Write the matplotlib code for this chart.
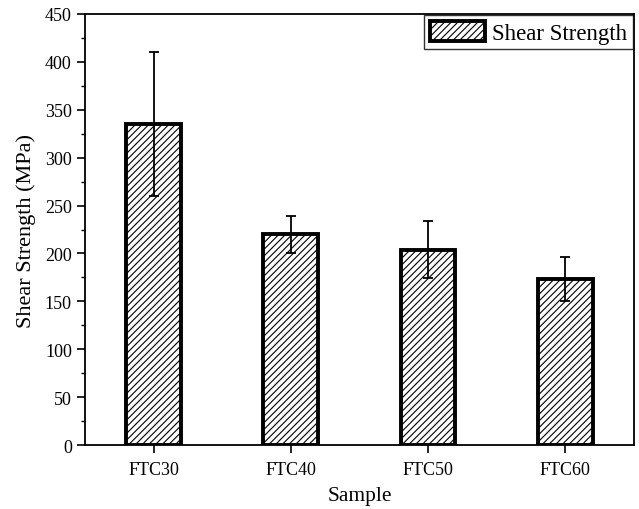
import matplotlib
matplotlib.use("Agg")
import matplotlib.pyplot as plt
from matplotlib.ticker import MultipleLocator

# data
samples = ["FTC30", "FTC40", "FTC50", "FTC60"]
strength = [335, 220, 204, 173]
strength_err = [75, 19, 30, 23]

plt.rcParams["font.family"] = ["Liberation Serif", "DejaVu Serif"]
plt.rcParams["hatch.linewidth"] = 0.8
plt.rcParams["hatch.color"] = "#444444"

fig = plt.figure(figsize=(6.39, 5.10), dpi=100)
ax = fig.add_axes([0.133, 0.125, 0.859, 0.846])

x = list(range(1, len(samples) + 1))
ax.bar(x, strength, width=0.4, facecolor="white", edgecolor="black",
       linewidth=2.8, hatch="/////", label="Shear Strength", zorder=2)
ax.errorbar(x, strength, yerr=strength_err, fmt="none", ecolor="black",
            elinewidth=1.3, capsize=3.5, capthick=1.3, zorder=3)

ax.set_xlim(0.5, 4.5)
ax.set_ylim(0, 450)
ax.set_xticks(x)
ax.set_xticklabels(samples)
ax.yaxis.set_major_locator(MultipleLocator(50))
ax.yaxis.set_minor_locator(MultipleLocator(25))
ax.tick_params(axis="both", which="major", direction="out", length=6,
               width=1.2, labelsize=13)
ax.tick_params(axis="x", which="major", pad=5)
ax.tick_params(axis="y", which="minor", direction="out", length=3, width=1.0)
for s in ax.spines.values():
    s.set_linewidth(1.3)

ax.set_xlabel("Sample", fontsize=15.5, labelpad=6)
ax.set_ylabel("Shear Strength (MPa)", fontsize=16, labelpad=6)

leg = ax.legend(loc="upper right", fontsize=16.5, frameon=True, fancybox=False,
                edgecolor="black", borderaxespad=0.05, handlelength=2.4,
                handleheight=1.0, borderpad=0.25, handletextpad=0.3)
leg.get_frame().set_linewidth(1.0)

fig.savefig("out.png", dpi=100)
